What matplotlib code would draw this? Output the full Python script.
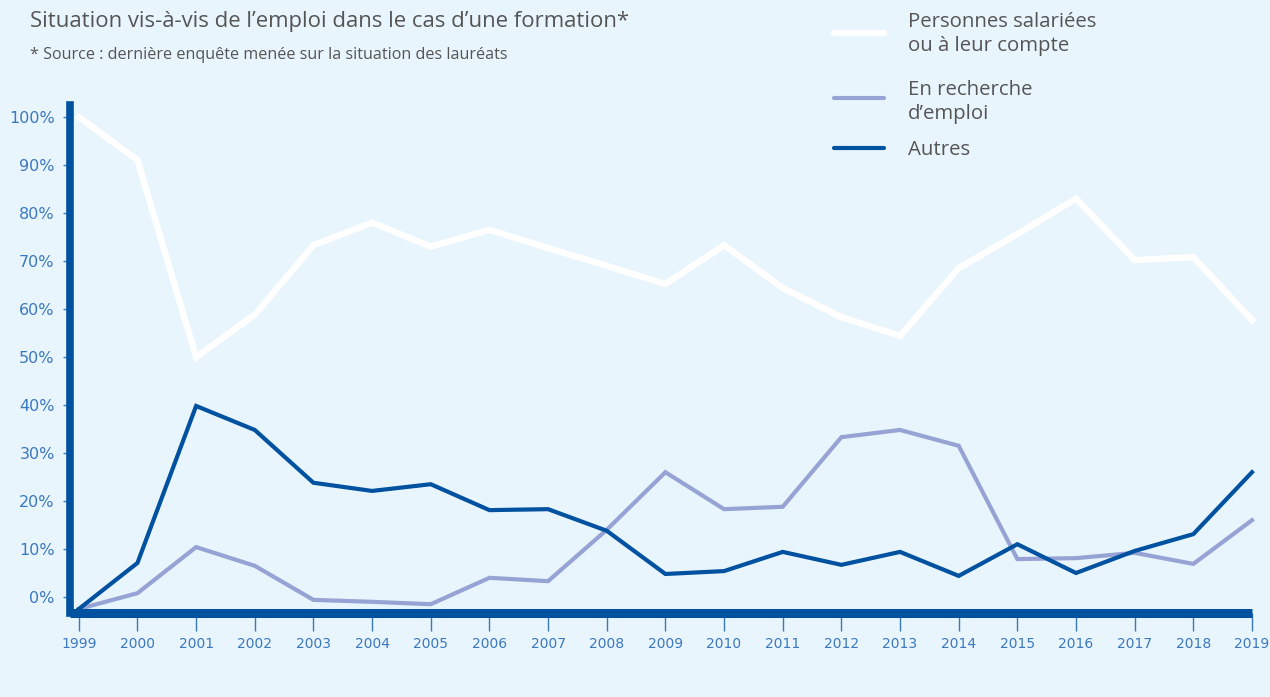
import numpy as np
import matplotlib
matplotlib.use('Agg')
import matplotlib.pyplot as plt
from matplotlib.lines import Line2D

#%%-----Data-------------------------------------------------------------------
annees = [1999, 2000, 2001, 2002, 2003, 2004, 2005, 2006, 2007, 2008, 2009,
          2010, 2011, 2012, 2013, 2014, 2015, 2016, 2017, 2018, 2019]

salaries = [100, 91, 50, 58.8, 73.3, 78, 73, 76.5, 72.7, 69, 65.2,
            73.3, 64.4, 58.3, 54.4, 68.5, 75.6, 83, 70.2, 70.8, 57.7]

recherche = [-2.5, 0.8, 10.4, 6.5, -0.6, -1, -1.5, 4, 3.3, 14, 26,
             18.3, 18.8, 33.3, 34.8, 31.5, 7.9, 8.1, 9.2, 6.9, 16]

autres = [-2.5, 7.1, 39.8, 34.8, 23.8, 22.1, 23.5, 18.1, 18.3, 13.8, 4.8,
          5.4, 9.4, 6.7, 9.4, 4.4, 11, 5, 9.6, 13.1, 26]

y_ticks = [0, 10, 20, 30, 40, 50, 60, 70, 80, 90, 100]
y_labels = ['0%', '10%', '20%', '30%', '40%', '50%', '60%', '70%', '80%', '90%', '100%']

legende = ['Personnes salariées\nou à leur compte', 'En recherche\nd\u2019emploi', 'Autres']

#%%-----Style------------------------------------------------------------------
fond = '#e9f5fd'
bleu_fonce = '#0052a0'
bleu_clair = '#96a3d4'
bleu_texte = '#3a78c0'
gris = '#555555'
plt.rcParams['font.family'] = ['Open Sans', 'DejaVu Sans']

#%%-----Graph------------------------------------------------------------------
fig = plt.figure(figsize=(12.7, 6.97), dpi=100, facecolor=fond)
ax = fig.add_axes([70/1270, 84/697, 1182/1270, 508.5/697])
ax.set_facecolor(fond)

ax.plot(annees, salaries, color='white', lw=4.6, solid_joinstyle='miter', clip_on=False, zorder=3)
ax.plot(annees, recherche, color=bleu_clair, lw=3.0, solid_joinstyle='miter', clip_on=False, zorder=3)
ax.plot(annees, autres, color=bleu_fonce, lw=3.0, solid_joinstyle='miter', clip_on=False, zorder=4)

ax.set_xlim(1998.85, 2019)
ax.set_ylim(-3.33, 102.6)

ax.spines['right'].set_color('none')
ax.spines['top'].set_color('none')
ax.spines['left'].set_color(bleu_fonce)
ax.spines['bottom'].set_color(bleu_fonce)
ax.spines['left'].set_linewidth(5.5)
ax.spines['bottom'].set_linewidth(6.5)
ax.spines['left'].set_zorder(5)
ax.spines['bottom'].set_zorder(5)
ax.spines['left'].set_capstyle('projecting')
ax.spines['bottom'].set_capstyle('butt')

ax.set_yticks(y_ticks)
ax.set_yticklabels(y_labels)
ax.set_xticks(annees)
ax.set_xticklabels([str(a) for a in annees])
ax.tick_params(axis='y', length=5, width=1, color=bleu_texte, labelcolor=bleu_texte,
               labelsize=11.5, pad=6)
ax.tick_params(axis='x', length=13, width=1, color=bleu_texte, labelcolor=bleu_texte,
               labelsize=10, pad=4, direction='out')
for lab in ax.get_yticklabels() + ax.get_xticklabels():
    lab.set_fontfamily(['DejaVu Sans'])

#%%-----Titles-----------------------------------------------------------------
fig.text(30/1270, 1 - 21/697, 'Situation vis-à-vis de l\u2019emploi dans le cas d\u2019une formation*',
         fontsize=15.9, color=gris, va='center', ha='left')
fig.text(30/1270, 1 - 55/697, '* Source : dernière enquête menée sur la situation des lauréats',
         fontsize=11.6, color=gris, va='center', ha='left')

#%%-----Legend-----------------------------------------------------------------
couleurs = ['white', bleu_clair, bleu_fonce]
largeurs = [4.6, 3.0, 3.0]
y_lignes = [33, 98, 148]
y_textes = [34, 102, 150]
for lab, c, lw, yl, yt in zip(legende, couleurs, largeurs, y_lignes, y_textes):
    fig.add_artist(Line2D([834/1270, 884/1270], [1 - yl/697, 1 - yl/697],
                          color=c, lw=lw, solid_capstyle='round', transform=fig.transFigure))
    fig.text(908/1270, 1 - yt/697, lab, fontsize=14.7, color=gris, va='center', ha='left',
             linespacing=1.25)

fig.savefig('out.png', dpi=100, facecolor=fond)
